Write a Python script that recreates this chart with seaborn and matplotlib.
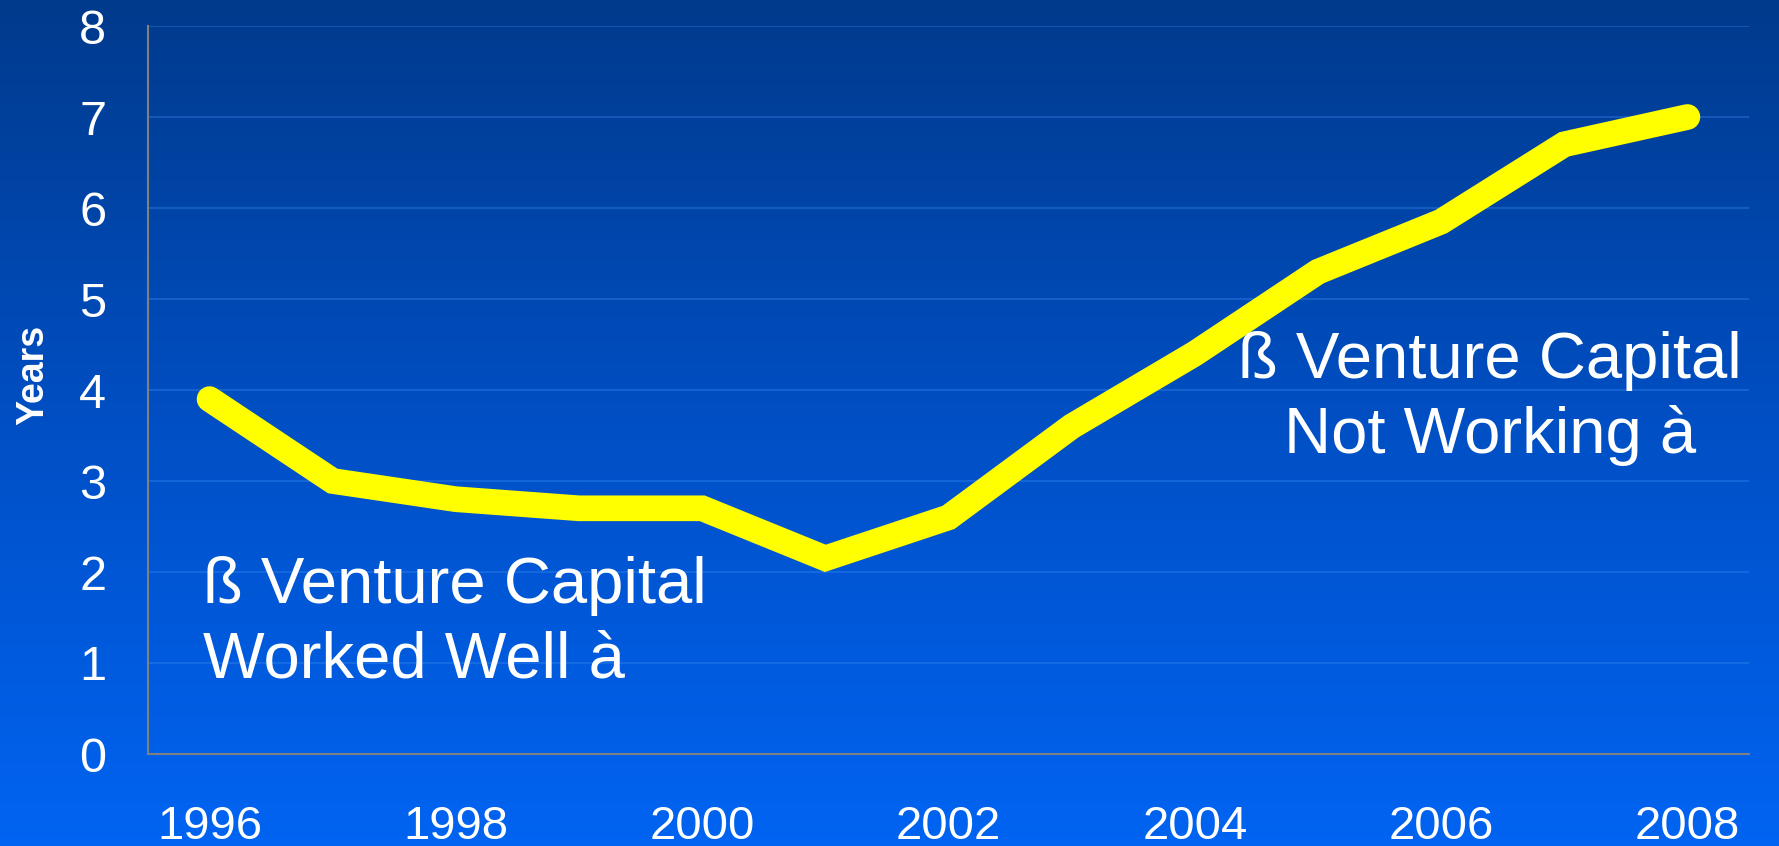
import numpy as np
import pandas as pd
import matplotlib
matplotlib.use("Agg")
import matplotlib.pyplot as plt
import seaborn as sns
from matplotlib.colors import LinearSegmentedColormap

years = [1996, 1997, 1998, 1999, 2000, 2001, 2002, 2003, 2004, 2005, 2006, 2007, 2008]
values = [3.9, 3.0, 2.8, 2.7, 2.7, 2.15, 2.6, 3.6, 4.4, 5.3, 5.85, 6.7, 7.0]
xticks = [1996, 1998, 2000, 2002, 2004, 2006, 2008]
yticks = [0, 1, 2, 3, 4, 5, 6, 7, 8]
ylabel = "Years"
note_left = "ß Venture Capital\nWorked Well à"
note_right = "ß Venture Capital\nNot Working à"

sns.set_theme(style="white")
plt.rcParams['font.family'] = ['Liberation Sans', 'DejaVu Sans']

W, H = 1779, 846
fig = plt.figure(figsize=(W / 100, H / 100), dpi=100)

# gradient background
bg = fig.add_axes([0, 0, 1, 1], zorder=-10)
cmap = LinearSegmentedColormap.from_list("bg", ["#003a8c", "#004fc4", "#0064f2"])
grad = np.linspace(0, 1, 256).reshape(-1, 1)
bg.imshow(grad, aspect="auto", cmap=cmap, extent=[0, 1, 0, 1], origin="upper")
bg.set_axis_off()

ax = fig.add_axes([148 / W, 1 - 754 / H, (1749 - 148) / W, (754 - 26) / H])
ax.set_facecolor("none")

df = pd.DataFrame({"year": years, "value": values})
sns.lineplot(data=df, x="year", y="value", ax=ax, color="#ffff00", linewidth=18.5,
             solid_capstyle="round", solid_joinstyle="miter", zorder=5)

ax.set_xlim(1995.5, 2008.5)
ax.set_ylim(0, 8)
ax.set_xticks(xticks)
ax.set_xticklabels([str(x) for x in xticks])
ax.set_yticks(yticks)
ax.set_yticklabels([str(y) for y in yticks])
ax.tick_params(axis="x", colors="white", labelsize=34, length=0, pad=37)
ax.tick_params(axis="y", colors="white", labelsize=35, length=0, pad=30)
ax.set_xlabel("")
ax.set_ylabel("")

ax.yaxis.grid(True, color="#3b8cf0", alpha=0.35, linewidth=1.5)
ax.xaxis.grid(False)
for s in ["top", "right"]:
    ax.spines[s].set_visible(False)
for s in ["left", "bottom"]:
    ax.spines[s].set_visible(True)
    ax.spines[s].set_color("#808080")
    ax.spines[s].set_linewidth(1.5)

fig.text(33 / W, 1 - 375 / H, ylabel, rotation=90, color="white", fontsize=27,
         fontweight="bold", ha="center", va="center")

fig.text(203 / W, 1 - 677 / H, note_left, color="white", fontsize=47,
         ha="left", va="baseline", linespacing=1.3, zorder=10)
fig.text(1490 / W, 1 - 453 / H, note_right, color="white", fontsize=47,
         ha="center", va="baseline", multialignment="center", linespacing=1.3, zorder=10)

fig.savefig("out.png", dpi=100)
